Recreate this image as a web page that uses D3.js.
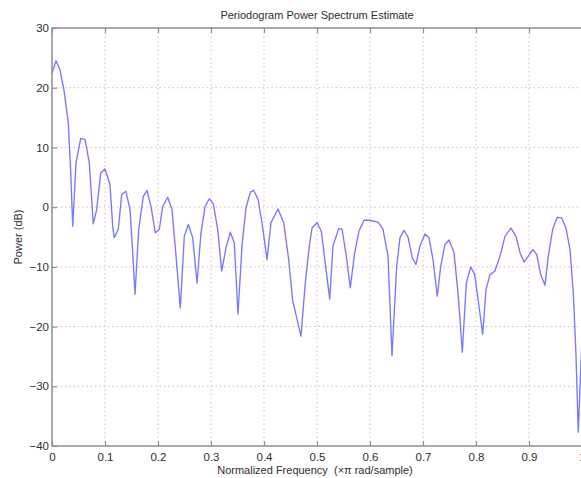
<!DOCTYPE html>
<html><head><meta charset="utf-8">
<script src="https://cdn.jsdelivr.net/npm/d3@7"></script>
<style>
html,body{margin:0;padding:0;background:#fff;}
svg{display:block;}
</style></head>
<body>
<script>
const freq = [0,0.0075,0.0151,0.0226,0.0308,0.0353,0.0391,0.0453,0.0542,0.0623,0.0704,0.0779,0.0843,0.0919,0.1000,0.1094,0.1145,0.1175,0.1251,0.1315,0.1396,0.1472,0.1523,0.1566,0.1636,0.1723,0.1792,0.1868,0.1949,0.2025,0.2089,0.2183,0.2264,0.2340,0.2421,0.2496,0.2572,0.2655,0.2736,0.2811,0.2887,0.2968,0.3043,0.3126,0.3202,0.3283,0.3364,0.3440,0.3509,0.3585,0.3660,0.3742,0.3806,0.3887,0.3962,0.4057,0.4132,0.4264,0.4372,0.4466,0.4542,0.4698,0.4779,0.4855,0.4906,0.5000,0.5081,0.5240,0.5302,0.5409,0.5472,0.5553,0.5628,0.5711,0.5792,0.5887,0.5994,0.6151,0.6245,0.6340,0.6415,0.6504,0.6566,0.6642,0.6717,0.6798,0.6868,0.6943,0.7038,0.7113,0.7189,0.7270,0.7334,0.7415,0.7491,0.7585,0.7666,0.7742,0.7817,0.7900,0.7975,0.8057,0.8126,0.8189,0.8264,0.8358,0.8453,0.8547,0.8660,0.8755,0.8830,0.8906,0.8987,0.9070,0.9145,0.9221,0.9302,0.9364,0.9447,0.9534,0.9617,0.9698,0.9774,0.9836,0.9887,0.9930,0.9981,1.0];
const power = [22.4,24.5,23.0,19.6,14.1,5.8,-3.2,7.4,11.5,11.3,7.4,-2.8,-0.4,5.7,6.4,3.8,-3.2,-5.1,-3.7,2.1,2.65,-0.4,-7.6,-14.6,-3.7,1.8,2.8,0.1,-4.3,-3.7,0.1,1.65,-0.4,-8.2,-16.9,-4.9,-2.9,-5.1,-12.7,-4.3,0.1,1.4,0.6,-3.7,-10.7,-6.8,-4.2,-6.0,-17.9,-6.5,-0.1,2.5,2.8,1.3,-2.6,-8.8,-2.6,-0.3,-2.6,-8.8,-15.7,-21.6,-12.7,-6.5,-3.5,-2.6,-4.0,-15.4,-6.5,-3.6,-3.7,-8.2,-13.5,-7.6,-4.0,-2.2,-2.2,-2.5,-3.7,-8.2,-24.9,-9.9,-5.1,-3.9,-5.0,-8.5,-9.6,-6.5,-4.5,-5.1,-8.8,-14.9,-9.9,-6.25,-5.5,-7.6,-14.9,-24.3,-12.7,-10.0,-11.3,-16.6,-21.3,-13.8,-11.3,-10.7,-8.2,-4.9,-3.5,-4.9,-7.6,-9.2,-8.2,-7.1,-7.9,-11.3,-13.1,-8.2,-3.7,-1.7,-1.8,-3.5,-7.1,-14.3,-24.9,-37.7,-26.0,-22.0];
const xTicks = [0,0.1,0.2,0.3,0.4,0.5,0.6,0.7,0.8,0.9,1];
const yTicks = [-40,-30,-20,-10,0,10,20,30];
const titleText = "Periodogram Power Spectrum Estimate";
const xLabelText = "Normalized Frequency  (\u00d7\u03c0 rad/sample)";
const yLabelText = "Power (dB)";

const W = 581, H = 478;
const L = 52, R = 582, T = 28, B = 446;
const font = "'Liberation Sans', Arial, Helvetica, sans-serif";
const axisColor = "#8f8f8f", textColor = "#2e2e2e";

const svg = d3.select("body").append("svg").attr("width", W).attr("height", H)
  .style("background", "#fff");

const x = d3.scaleLinear().domain([0, 1]).range([L, R]);
const y = d3.scaleLinear().domain([-40, 30]).range([B, T]);

// grid
const grid = svg.append("g");
grid.selectAll("line.vx").data(xTicks.slice(1, -1)).join("line")
  .attr("x1", d => x(d)).attr("x2", d => x(d)).attr("y1", T).attr("y2", B)
  .attr("stroke", "#c4c4c4").attr("stroke-width", 1).attr("stroke-dasharray", "1.5,2.8");
grid.selectAll("line.hy").data(yTicks.slice(1, -1)).join("line")
  .attr("x1", L).attr("x2", R).attr("y1", d => y(d)).attr("y2", d => y(d))
  .attr("stroke", "#c4c4c4").attr("stroke-width", 1).attr("stroke-dasharray", "1.5,2.8");

// line
const line = d3.line().x((d, i) => x(freq[i])).y(d => y(d));
svg.append("path").datum(power).attr("d", line)
  .attr("fill", "none").attr("stroke", "#7878ff").attr("stroke-width", 1.35)
  .attr("stroke-linejoin", "round");

// axes
const tk = 5;
svg.append("rect").attr("x", L).attr("y", T).attr("width", R - L).attr("height", B - T)
  .attr("fill", "none").attr("stroke", axisColor).attr("stroke-width", 1.5);

const xb = d3.axisBottom(x).tickValues(xTicks).tickSize(-tk).tickPadding(8)
  .tickFormat(d => d === 0 || d === 1 ? String(d) : d3.format(".1f")(d));
const gB = svg.append("g").attr("transform", `translate(0,${B})`).call(xb);
const xt = d3.axisTop(x).tickValues(xTicks).tickSize(-tk).tickFormat("");
const gT = svg.append("g").attr("transform", `translate(0,${T})`).call(xt);
const yl = d3.axisLeft(y).tickValues(yTicks).tickSize(-tk).tickPadding(3)
  .tickFormat(d3.format("d"));
const gL = svg.append("g").attr("transform", `translate(${L},0)`).call(yl);

[gB, gT, gL].forEach(g => {
  g.select(".domain").remove();
  g.selectAll(".tick line").attr("stroke", axisColor).attr("stroke-width", 1.2);
  g.selectAll(".tick text").attr("fill", textColor).style("font-family", font)
    .style("font-size", "11.5px");
});
gB.selectAll(".tick text").attr("dy", "0.71em").attr("y", 7);

// labels
svg.append("text").attr("x", (L + R) / 2).attr("y", 19).attr("text-anchor", "middle")
  .style("font-family", font).style("font-size", "11px").attr("fill", textColor).text(titleText);
svg.append("text").attr("x", (L + R) / 2 - 2).attr("y", 474).attr("text-anchor", "middle")
  .style("white-space", "pre")
  .style("font-family", font).style("font-size", "11px").attr("fill", textColor).text(xLabelText);
svg.append("text").attr("transform", `translate(22,${(T + B) / 2}) rotate(-90)`)
  .attr("text-anchor", "middle")
  .style("font-family", font).style("font-size", "11px").attr("fill", textColor).text(yLabelText);
</script>
</body></html>
